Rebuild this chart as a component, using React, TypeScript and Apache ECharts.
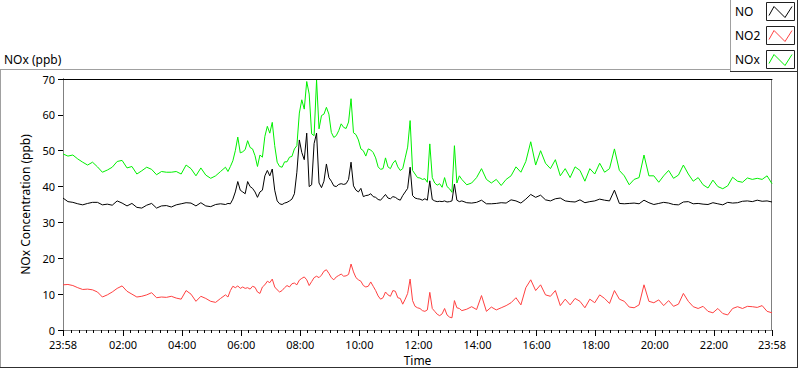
import { useEffect, useRef } from "react";
import * as echarts from "echarts";

// Sampling minutes after the 23:58 start (10-min steps, 5-min steps through the busy morning)
function span(a: number, b: number, s: number): number[] {
  const r: number[] = [];
  for (let t = a; t <= b; t += s) r.push(t);
  return r;
}
const TIMES: number[] = [...span(0, 330, 10), ...span(335, 810, 5), ...span(820, 1440, 10)];

const NOX: number[] = [
  49.1, 48.5, 48.8, 47.7, 46.8, 46.0, 46.8, 45.5, 44.0, 44.6, 45.4, 47.0, 47.3, 45.2, 45.6, 43.5, 44.4,
  45.4, 44.8, 43.3, 44.2, 44.0, 44.0, 44.2, 43.5, 46.0, 45.0, 43.0, 45.2, 43.2, 42.3, 43.0, 44.2, 45.4,
  44.2, 45.6, 47.2, 50.0, 53.8, 49.4, 49.7, 50.3, 52.8, 50.9,
  50.5, 48.6, 45.6, 48.8, 48.2, 54.0, 56.8, 54.9, 57.9, 51.4,
  46.8, 45.6, 45.4, 46.9, 46.9, 48.2, 48.4, 50.5, 51.4, 60.5,
  64.2, 61.6, 69.3, 65.8, 54.7, 54.2, 69.7, 56.1, 59.8, 60.2,
  62.1, 60.2, 55.1, 53.7, 54.2, 55.6, 57.5, 56.5, 56.2, 58.0,
  64.5, 55.0, 54.5, 53.0, 50.5, 50.0, 48.5, 50.5, 50.2, 49.5,
  48.0, 45.5, 44.8, 45.0, 48.0, 45.5, 45.0, 46.5, 47.3, 45.5,
  44.5, 45.0, 48.0, 51.0, 58.4, 44.5, 43.5, 42.5, 42.4, 42.0,
  42.2, 41.2, 51.9, 42.5, 41.0, 40.4, 40.8, 39.8, 42.5, 40.0,
  39.4, 38.4, 51.4, 41.0, 43.0, 42.0,
  40.5, 41.0, 42.5, 45.0, 42.0, 41.0, 42.0, 40.3, 42.0, 43.0,
  45.5, 44.0, 47.0, 52.5, 46.0, 50.0, 46.5, 45.0, 47.5, 43.0,
  45.0, 42.5, 45.5, 44.5, 41.5, 45.0, 43.5, 46.5, 44.0, 45.0,
  50.5, 44.5, 43.0, 40.5, 42.0, 42.5, 48.8, 43.0, 43.0, 41.2,
  43.0, 44.5, 42.3, 43.2, 46.0, 43.5, 41.5, 42.5, 40.5, 39.6,
  41.8, 40.0, 39.4, 40.2, 42.6, 41.5, 41.2, 42.4, 42.0, 42.3,
  42.0, 43.0, 40.8,
];

const NO: number[] = [
  36.8, 35.8, 35.6, 35.2, 34.9, 35.3, 35.6, 35.6, 34.9, 35.1, 34.8, 36.0, 35.4, 34.6, 35.3, 34.2, 34.0,
  34.8, 35.3, 34.0, 34.6, 34.7, 34.3, 34.9, 35.2, 35.5, 35.4, 34.6, 35.5, 34.6, 34.4, 35.0, 35.2, 35.0,
  35.3, 35.2, 36.5, 38.5, 41.4, 39.0, 38.5, 38.0, 41.4, 40.0,
  39.5, 38.5, 37.0, 38.5, 39.0, 43.0, 44.5, 43.0, 44.9, 39.0,
  36.0, 35.2, 35.0, 35.4, 35.6, 36.0, 36.5, 38.0, 44.0, 53.0,
  49.5, 47.5, 54.9, 40.0, 40.5, 52.0, 54.9, 41.0, 39.7, 41.5,
  46.3, 42.5, 41.5, 40.2, 40.0, 40.6, 40.8, 40.6, 40.8, 42.0,
  46.8, 40.2, 39.0, 38.5, 39.5, 37.2, 37.5, 37.6, 38.0, 37.2,
  37.0, 36.4, 36.2, 37.0, 37.8, 36.8, 36.6, 37.2, 37.0, 36.5,
  36.2, 37.5, 38.5, 39.5, 45.4, 37.5, 36.8, 36.6, 36.5, 36.2,
  36.6, 36.2, 41.6, 36.4, 36.0, 35.8, 35.9, 35.8, 36.0, 35.7,
  35.8, 36.0, 40.7, 36.2, 35.8, 36.0,
  35.5, 35.4, 35.6, 36.2, 35.2, 35.2, 35.3, 35.5, 35.4, 36.3,
  36.0, 35.4, 36.5, 37.8, 37.0, 37.6, 36.3, 36.0, 36.6, 36.8,
  36.0, 35.8, 35.7, 36.3, 35.5, 35.8, 36.0, 36.5, 36.2, 36.0,
  39.0, 35.3, 35.2, 35.3, 35.4, 35.2, 36.2, 35.5, 35.0, 35.3,
  35.6, 35.4, 35.0, 34.9, 35.7, 35.8, 35.2, 35.3, 35.1, 35.0,
  35.5, 35.2, 34.9, 35.6, 35.4, 35.5, 35.9, 36.0, 35.8, 36.2,
  35.9, 36.0, 35.7,
];

const NO2: number[] = [
  12.6, 12.7, 12.4, 11.8, 11.3, 11.4, 11.2, 10.6, 9.2, 9.8, 10.6, 11.6, 12.3, 10.8, 10.0, 9.2, 9.4,
  9.8, 10.4, 9.0, 9.2, 9.1, 9.4, 8.9, 8.6, 11.0, 10.0, 8.0, 9.4, 8.8, 8.0, 7.7, 8.8, 9.8,
  9.2, 11.0, 12.2, 11.8, 12.3, 11.6, 12.0, 11.6, 11.8, 11.4,
  12.2, 11.9, 10.6, 10.2, 12.0, 12.6, 13.6, 13.2, 14.2, 12.0,
  11.2, 10.6, 11.0, 11.8, 12.4, 12.0, 12.9, 13.1, 12.6, 13.9,
  14.4, 14.8, 14.0, 12.4, 13.5, 14.6, 15.0, 14.6, 15.3, 16.4,
  16.8, 15.8, 14.6, 14.0, 14.8, 15.2, 15.6, 15.0, 15.1, 15.5,
  18.4, 16.2, 14.6, 14.0, 13.6, 12.4, 12.0, 12.2, 13.4, 12.2,
  11.0, 9.5, 8.6, 9.0, 10.6, 9.8, 9.4, 11.0, 10.8, 9.0,
  8.8, 7.2, 8.6, 10.2, 14.2, 8.2, 6.6, 6.2, 6.0, 5.4,
  5.2, 5.6, 10.5, 6.0, 5.2, 4.4, 4.0, 4.5, 6.0, 4.2,
  3.6, 3.4, 8.2, 6.2, 6.0, 5.4,
  5.8, 6.5, 5.7, 9.6, 5.2, 6.4, 5.6, 6.2, 6.8, 7.6,
  9.0, 7.0, 11.8, 14.0, 11.0, 12.6, 9.8, 9.4, 11.0, 6.8,
  8.6, 7.0, 8.8, 8.0, 6.2, 8.6, 7.6, 9.8, 8.8, 7.4,
  11.0, 8.6, 8.0, 6.4, 6.2, 7.0, 12.6, 8.0, 7.6, 8.4,
  6.8, 8.2, 6.6, 7.2, 10.2, 8.0, 6.5, 6.0, 6.6, 5.2,
  4.8, 6.0, 4.6, 4.2, 6.0, 6.5, 6.0, 6.6, 6.5, 6.3,
  6.8, 5.2, 4.8,
];

const TICK_MINUTES: number[] = [0, 122, 242, 362, 482, 602, 722, 842, 962, 1082, 1202, 1322, 1440];
const TICK_LABELS: string[] = [
  "23:58", "02:00", "04:00", "06:00", "08:00", "10:00", "12:00",
  "14:00", "16:00", "18:00", "20:00", "22:00", "23:58",
];
const MINOR_TICKS: number[] = span(17, 1439, 15);

const SERIES_NAMES = ["NO", "NO2", "NOx"];
const SERIES_COLORS = ["#000000", "#ff4040", "#00f000"];

const FONT = '"Noto Sans", sans-serif';

export default function App() {
  const ref = useRef<HTMLDivElement>(null);

  useEffect(() => {
    if (!ref.current) return;
    const chart = echarts.init(ref.current, undefined, { renderer: "svg" });

    const pair = (vals: number[]) => TIMES.map((t, i) => [t, vals[i]]);
    const seriesVals = [NO, NO2, NOX];

    const line = (x1: number, y1: number, x2: number, y2: number, c: string) => ({
      type: "line",
      silent: true,
      shape: { x1, y1, x2, y2 },
      style: { stroke: c, lineWidth: 1 },
    });

    const legendEls: any[] = [];
    SERIES_NAMES.forEach((n, i) => {
      const top = 2.5 + i * 24;
      legendEls.push({
        type: "text",
        silent: true,
        x: 735,
        y: top + 9,
        style: { text: n, font: `12px ${FONT}`, fill: "#000", textVerticalAlign: "middle" },
      });
      legendEls.push({
        type: "rect",
        silent: true,
        shape: { x: 766.5, y: top, width: 28, height: 18 },
        style: { fill: "#fff", stroke: "#202020", lineWidth: 1 },
      });
      legendEls.push({
        type: "polyline",
        silent: true,
        shape: {
          points: [
            [769, top + 13],
            [774, top + 4],
            [785, top + 15],
            [792, top + 4],
          ],
        },
        style: { stroke: SERIES_COLORS[i], lineWidth: 1, fill: "none" },
      });
    });

    chart.setOption({
      animation: false,
      textStyle: { fontFamily: FONT },
      grid: {
        left: 63,
        right: 28,
        top: 79,
        bottom: 39,
        containLabel: false,
        outerBoundsMode: "none",
      },
      xAxis: [
        {
          type: "value",
          position: "bottom",
          min: 0,
          max: 1440,
          name: "Time",
          nameLocation: "middle",
          nameGap: 24,
          nameTextStyle: { fontSize: 12, color: "#000", fontFamily: FONT },
          axisLine: { show: true, lineStyle: { color: "#808080", width: 1 } },
          axisTick: { show: true, customValues: TICK_MINUTES, length: 6, lineStyle: { color: "#000" } },
          axisLabel: {
            show: true,
            customValues: TICK_MINUTES,
            fontSize: 11,
            color: "#000",
            margin: 9,
            fontFamily: FONT,
            formatter: (v: number) => {
              const k = TICK_MINUTES.indexOf(Math.round(v));
              return k >= 0 ? TICK_LABELS[k] : "";
            },
          },
          splitLine: { show: false },
        },
        {
          type: "value",
          position: "bottom",
          min: 0,
          max: 1440,
          axisLine: { show: false },
          axisTick: { show: true, customValues: MINOR_TICKS, length: 3, lineStyle: { color: "#000" } },
          axisLabel: { show: false },
          splitLine: { show: false },
        },
        {
          type: "value",
          position: "top",
          min: 0,
          max: 1440,
          axisLine: { show: true, lineStyle: { color: "#000", width: 1 } },
          axisTick: { show: false },
          axisLabel: { show: false },
          splitLine: { show: false },
        },
      ],
      yAxis: [
        {
          type: "value",
          position: "left",
          min: 0,
          max: 70,
          interval: 10,
          name: "NOx Concentration (ppb)",
          nameLocation: "middle",
          nameGap: 25,
          nameRotate: 90,
          nameTextStyle: { fontSize: 12, color: "#000", fontFamily: FONT },
          axisLine: { show: true, lineStyle: { color: "#000", width: 1 } },
          axisTick: { show: true, length: 5, lineStyle: { color: "#000" } },
          axisLabel: { fontSize: 11, color: "#000", margin: 8, fontFamily: FONT },
          splitLine: { show: false },
        },
        {
          type: "value",
          position: "right",
          min: 0,
          max: 70,
          axisLine: { show: true, lineStyle: { color: "#808080", width: 1 } },
          axisTick: { show: false },
          axisLabel: { show: false },
          splitLine: { show: false },
        },
      ],
      series: SERIES_NAMES.map((n, i) => ({
        name: n,
        type: "line",
        xAxisIndex: 0,
        yAxisIndex: 0,
        data: pair(seriesVals[i]),
        showSymbol: false,
        symbol: "none",
        lineStyle: { color: SERIES_COLORS[i], width: 1 },
        itemStyle: { color: SERIES_COLORS[i] },
        z: 3 - i,
      })),
      graphic: [
        line(0, 69.5, 730, 69.5, "#a0a0a0"),
        line(0.5, 69.5, 0.5, 368, "#a0a0a0"),
        line(0, 367.5, 798, 367.5, "#303030"),
        line(797.5, 0, 797.5, 368, "#303030"),
        line(730.5, 0, 730.5, 72, "#a0a0a0"),
        line(730, 71.5, 798, 71.5, "#303030"),
        line(771.5, 79, 771.5, 330, "#808080"),
        {
          type: "text",
          silent: true,
          x: 4,
          y: 59,
          style: { text: "NOx (ppb)", font: `12px ${FONT}`, fill: "#000", textVerticalAlign: "middle" },
        },
        ...legendEls,
      ],
    });

    return () => chart.dispose();
  }, []);

  return (
    <div
      ref={ref}
      style={{ position: "fixed", left: 0, top: 0, width: 800, height: 369, background: "#fff" }}
    />
  );
}
